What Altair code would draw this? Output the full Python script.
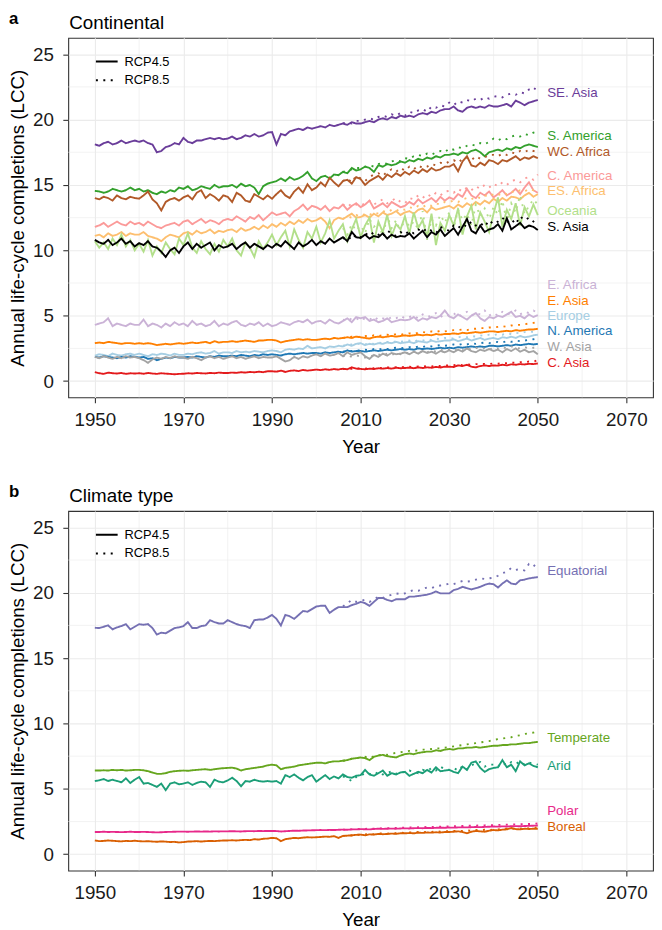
import altair as alt
import pandas as pd

FONT = "Liberation Sans"

years = list(range(1950, 2051))
years_85 = list(range(2006, 2051))

# ---------------- Continental (panel a) ----------------
se_asia_45 = [18.1, 18.0, 18.2, 18.3, 18.1, 18.2, 18.4, 18.2, 18.3, 18.4,
              18.3, 18.4, 18.2, 18.1, 17.5, 17.6, 17.9, 18.0, 18.2, 18.1,
              18.6, 18.3, 18.2, 18.4, 18.4, 18.5, 18.6, 18.5, 18.6, 18.5,
              18.55, 18.7, 18.5, 18.6, 18.8, 18.7, 18.9, 18.7, 18.8, 19.0,
              19.05, 18.1, 18.9, 18.8, 19.1, 19.2, 19.3, 19.2, 19.4, 19.3,
              19.4, 19.5, 19.4, 19.6, 19.5, 19.6, 19.7, 19.6, 19.8, 19.7,
              19.7, 19.8, 19.9, 19.8, 20.0, 20.1, 20.0, 20.2, 20.1, 20.3,
              20.2, 20.3, 20.2, 20.4, 20.5, 20.4, 20.6, 20.5, 20.7, 20.8,
              20.8, 21.0, 20.7, 20.6, 20.9, 21.0, 20.9, 21.0, 20.9, 21.1,
              21.0, 21.0, 21.1, 21.2, 21.0, 21.45, 21.3, 21.1, 21.3, 21.4,
              21.5]
se_asia_85 = [19.7, 19.8, 19.7, 19.9,
              19.9, 20.0, 20.1, 20.0, 20.2, 20.3, 20.2, 20.4, 20.3, 20.5,
              20.3, 20.6, 20.5, 20.7, 20.8, 20.6, 21.0, 20.9, 21.1, 21.0,
              21.3, 21.1, 21.4, 21.3, 21.5, 21.4, 21.6, 21.5, 21.7, 21.6,
              21.75, 21.8, 21.7, 21.9, 22.0, 21.9, 22.1, 22.0, 22.3, 22.2,
              22.7]

s_america_45 = [14.55, 14.5, 14.4, 14.5, 14.7, 14.6, 14.5, 14.6, 14.8, 14.6,
                14.7, 14.5, 14.6, 14.4, 14.3, 14.5, 14.4, 14.6, 14.5, 14.8,
                14.7, 14.9, 14.6, 14.7, 14.9, 14.8, 14.7, 15.0, 14.8, 14.9,
                14.9, 15.0, 14.8, 15.1, 14.9, 15.0, 14.8, 14.3, 14.9, 15.1,
                15.2, 15.3, 15.5, 15.3, 15.6, 15.4, 15.5, 15.7, 16.0, 15.5,
                15.3, 15.6, 15.7, 15.5, 15.8, 15.75, 16.0, 15.9, 16.3, 16.1,
                16.2, 16.4, 16.3, 16.0, 16.5, 16.4, 16.6, 16.5, 16.6, 16.8,
                16.7, 16.9, 16.8, 17.0, 16.9, 17.1, 17.0, 17.2, 17.1, 17.3,
                17.3, 17.4, 17.3, 17.5, 17.4, 17.6, 17.7, 17.5, 17.2, 17.5,
                17.6, 17.7, 17.6, 17.8, 17.7, 17.9, 17.8, 18.0, 18.1, 18.0,
                17.9]
s_america_85 = [16.0, 16.1, 16.2, 16.3,
                16.3, 16.4, 16.5, 16.4, 16.6, 16.7, 16.6, 16.8, 16.9, 16.8,
                17.05, 17.0, 17.2, 17.3, 17.2, 17.4, 17.3, 17.5, 17.6, 17.5,
                17.8, 17.7, 17.9, 17.8, 18.0, 18.1, 18.0, 18.2, 18.1, 18.3,
                18.55, 18.4, 18.6, 18.5, 18.7, 18.8, 18.7, 18.9, 18.8, 19.0,
                19.1]

wc_africa_45 = [14.0, 13.9, 14.1, 14.0, 13.8, 14.2, 14.0, 13.9, 14.1, 14.0,
                13.95, 14.2, 14.5, 13.9, 13.6, 13.05, 13.7, 13.9, 14.0, 13.8,
                14.05, 14.2, 13.9, 14.4, 14.6, 14.0, 14.3, 14.1, 13.8, 14.2,
                14.1, 13.7, 14.4, 14.2, 13.8, 13.7, 14.3, 14.1, 13.9, 14.2,
                13.95, 14.3, 14.6, 14.2, 14.0, 14.5, 14.8, 14.4, 15.05, 14.6,
                14.8, 15.2, 14.9, 15.55, 15.2, 14.9, 15.3, 15.4, 15.1, 15.6,
                15.45, 15.0, 15.3, 15.5, 15.7, 15.4, 15.8, 15.6, 15.9, 15.7,
                16.0, 15.8, 16.1, 15.9, 16.2, 16.0, 16.3, 16.1, 16.2, 16.4,
                16.4, 16.6, 16.05, 16.8, 17.2, 16.5, 16.4, 16.7, 16.5, 16.9,
                16.8, 16.6, 16.9, 16.8, 17.0, 17.2, 16.9, 17.1, 17.0, 17.2,
                17.05]
wc_africa_85 = [15.3, 15.5, 15.2, 15.7,
                15.5, 15.3, 15.6, 15.8, 15.9, 15.7, 16.0, 16.2, 16.0, 16.3,
                16.1, 16.4, 16.2, 16.5, 16.3, 16.4, 16.6, 16.5, 16.7, 16.6,
                16.8, 16.9, 16.7, 17.0, 17.1, 16.9, 17.2, 17.0, 17.1, 17.3,
                17.3, 17.2, 17.4, 17.3, 17.5, 17.4, 17.6, 17.5, 17.7, 17.6,
                17.6]

c_america_45 = [11.8, 11.9, 12.1, 11.8, 12.0, 12.2, 12.0, 11.9, 12.2, 12.0,
                12.1, 11.9, 12.2, 12.0, 11.8, 11.7, 11.9, 12.0, 12.1, 11.9,
                12.2, 12.3, 12.0, 12.2, 12.4, 12.1, 12.3, 12.2, 12.0, 12.3,
                12.4, 12.3, 12.6, 12.4, 12.2, 12.55, 12.4, 12.7, 12.3, 12.6,
                12.9, 12.7, 12.8, 12.9, 12.6, 13.0, 13.2, 13.5, 13.1, 13.4,
                13.3, 13.1, 13.4, 13.0, 13.3, 13.2, 13.5, 13.1, 13.4, 13.6,
                13.3, 13.5, 13.8, 13.2, 13.4, 13.6, 13.3, 13.7, 13.5, 13.3,
                13.4, 13.7, 13.5, 13.9, 13.6, 13.8, 14.0, 13.7, 14.1, 13.8,
                14.05, 13.9, 14.3, 14.1, 14.7, 14.2, 14.0, 14.4, 14.2, 14.5,
                14.05, 14.3, 14.6, 14.2, 14.4, 14.7, 14.3, 14.8, 15.2, 14.6,
                14.4]
c_america_85 = [13.5, 13.3, 13.6, 13.5,
                13.4, 13.6, 13.8, 13.5, 13.7, 13.9, 13.6, 13.8, 14.0, 13.7,
                13.6, 14.0, 13.9, 14.2, 14.0, 14.3, 14.1, 14.4, 14.2, 14.5,
                14.55, 14.4, 14.7, 14.5, 14.8, 14.6, 14.9, 14.7, 15.0, 14.8,
                15.1, 14.9, 15.2, 15.0, 15.3, 15.4, 15.2, 15.5, 15.6, 15.4,
                15.8]

es_africa_45 = [11.1, 11.2, 11.0, 11.3, 11.1, 11.2, 11.4, 11.1, 11.3, 11.2,
                11.2, 11.4, 11.1, 11.0, 10.9, 10.7, 11.0, 11.2, 11.1, 11.0,
                11.3, 11.4, 11.2, 11.5, 11.3, 11.4, 11.6, 11.3, 11.5, 11.4,
                11.55, 11.6, 11.4, 11.7, 11.5, 11.6, 11.8, 11.6, 11.9, 11.7,
                12.0, 11.8, 12.1, 11.9, 12.2, 12.0, 12.3, 12.1, 12.4, 12.2,
                12.3, 12.5, 12.2, 11.7, 12.3, 12.5, 12.4, 12.6, 12.8, 12.5,
                12.55, 12.7, 12.5, 12.8, 12.6, 12.9, 12.7, 12.8, 13.0, 12.7,
                12.9, 13.0, 12.8, 13.1, 13.2, 12.9, 13.3, 13.1, 13.2, 13.3,
                13.4, 13.2, 13.5, 13.3, 13.6, 13.4, 13.7, 13.5, 13.8, 13.6,
                13.95, 13.7, 14.0, 13.8, 14.1, 14.05, 13.9, 14.2, 14.4, 14.1,
                14.3]
es_africa_85 = [12.4, 12.6, 12.5, 12.7,
                12.6, 12.8, 12.7, 12.9, 12.8, 13.0, 12.9, 13.1, 13.0, 13.2,
                13.1, 13.3, 13.2, 13.4, 13.3, 13.5, 13.4, 13.6, 13.5, 13.7,
                13.7, 13.8, 13.7, 13.9, 14.0, 13.9, 14.1, 14.0, 14.2, 14.1,
                14.3, 14.2, 14.4, 14.3, 14.5, 14.4, 14.6, 14.5, 14.7, 14.6,
                14.8]

oceania_45 = [10.7, 10.2, 10.6, 10.1, 10.9, 10.4, 11.2, 10.3, 10.8, 10.0,
              10.5, 9.9, 10.8, 9.6, 10.3, 9.8, 10.6, 10.1, 9.7, 10.9,
              10.4, 11.3, 10.2, 9.8, 10.7, 10.1, 9.7, 10.5, 9.9, 10.8,
              10.3, 10.9, 10.0, 9.6, 10.6, 10.2, 9.5, 10.7, 10.1, 10.6,
              11.2, 10.4, 11.0, 11.5, 10.3, 11.6, 10.8, 10.2, 11.4, 10.9,
              11.8, 10.6, 11.3, 12.3, 10.9, 11.5, 12.0, 10.7, 11.6, 12.4,
              11.0, 11.9, 12.5, 10.6, 12.2, 11.4, 12.7, 11.1, 12.0, 11.6,
              12.6, 11.3, 12.9, 11.7, 12.3, 11.0, 12.8, 10.4, 12.1, 11.5,
              12.7, 11.9, 13.2, 11.2, 12.6, 13.4, 11.6, 12.9, 12.2, 11.4,
              12.8, 14.05, 11.8, 13.1, 12.4, 13.6, 11.9, 13.3, 12.6, 13.5,
              12.7]
oceania_85 = [11.7, 11.2, 12.0, 11.5,
              11.9, 11.3, 12.4, 11.8, 12.1, 11.1, 12.6, 11.7, 12.3, 11.4,
              12.5, 11.8, 12.2, 11.6, 13.0, 10.8, 12.4, 11.9, 12.7, 12.1,
              12.9, 11.7, 13.1, 12.3, 12.8, 11.9, 13.5, 12.6, 13.2, 12.4,
              13.3, 12.7, 13.8, 12.2, 13.6, 12.9, 14.2, 12.8, 13.4, 13.9,
              13.5]

s_asia_45 = [10.8, 10.6, 10.5, 10.8, 10.4, 10.6, 10.9, 10.5, 10.7, 10.3,
             10.55, 10.4, 10.7, 10.3, 10.2, 9.9, 9.5, 10.0, 10.2, 9.8,
             10.3, 10.6, 10.1, 10.5, 10.2, 10.4, 10.6, 10.0, 10.4, 10.2,
             10.3, 10.5, 10.1, 10.4, 10.6, 10.2, 10.5, 10.3, 10.1, 10.4,
             10.2, 10.5, 10.3, 10.7, 10.4, 10.1, 10.6, 10.3, 10.5, 10.8,
             10.4, 10.7, 10.5, 10.9, 10.6, 10.8, 11.0, 10.7, 11.4, 11.0,
             10.95, 11.2, 10.9, 11.1, 11.0, 11.3, 10.9, 11.2, 11.0, 11.1,
             11.05, 11.3, 10.9, 11.2, 11.5, 11.0, 11.4, 11.2, 11.6, 11.1,
             11.4, 11.7, 11.2, 11.8, 12.4, 11.5, 11.3, 11.9, 11.4, 11.6,
             11.7, 12.0, 11.5, 12.45, 11.6, 11.85, 12.1, 11.7, 11.9, 11.8,
             11.55]
s_asia_85 = [10.9, 11.1, 10.8, 11.2,
             11.0, 11.3, 11.1, 11.4, 11.2, 11.0, 11.5, 11.3, 11.1, 11.4,
             11.2, 11.5, 11.3, 11.6, 11.4, 11.7, 11.5, 11.3, 11.8, 11.6,
             11.5, 11.9, 11.7, 12.0, 11.8, 12.2, 11.9, 12.1, 11.8, 12.3,
             12.0, 12.2, 12.5, 12.1, 12.4, 12.0, 12.6, 12.3, 12.5, 12.2,
             12.55]

e_africa_45 = [4.3, 4.4, 4.5, 4.8, 4.2, 4.4, 4.3, 4.2, 4.4, 4.3,
               4.3, 4.7, 4.2, 4.4, 4.3, 4.1, 4.4, 4.2, 4.5, 4.3,
               4.4, 4.2, 4.6, 4.3, 4.4, 4.2, 4.3, 4.6, 4.2, 4.4,
               4.3, 4.5, 4.6, 4.3, 4.2, 4.4, 4.3, 4.5, 4.2, 4.4,
               4.2, 4.3, 4.5, 4.4, 4.3, 4.5, 4.6, 4.5, 4.7, 4.4,
               4.55, 4.6, 4.4, 4.7, 4.5, 4.4, 4.6, 4.8, 4.5, 4.9,
               4.8, 4.9, 4.6, 4.7, 4.5, 4.6, 4.8, 4.5, 4.6, 4.7,
               4.65, 4.7, 4.9, 4.6, 4.8, 4.7, 4.9, 4.8, 5.0, 5.4,
               4.95, 4.8, 5.1, 4.9, 4.7, 5.0, 5.2, 4.8, 4.6, 4.9,
               4.8, 5.0, 4.9, 5.1, 5.3, 4.9, 5.0, 4.8, 5.1, 4.9,
               5.05]
e_africa_85 = [4.7, 4.6, 4.8, 4.7,
               4.9, 4.7, 4.8, 4.6, 4.9, 4.8, 4.7, 4.9, 4.8, 5.0,
               4.8, 4.9, 5.0, 4.8, 5.1, 4.9, 5.0, 5.2, 4.9, 5.1,
               5.0, 5.2, 4.9, 5.1, 5.3, 5.0, 5.2, 5.1, 5.4, 5.0,
               5.2, 5.0, 5.3, 5.1, 5.2, 5.4, 5.1, 5.3, 5.2, 5.4,
               5.2]

e_asia_45 = [2.9, 2.95, 2.9, 3.0, 2.95, 2.9, 2.85, 2.9, 2.9, 2.85,
             2.9, 2.85, 2.9, 2.85, 2.75, 2.8, 2.85, 2.8, 2.85, 2.9,
             2.85, 2.9, 2.95, 2.9, 2.95, 3.0, 2.9, 3.05, 2.95, 3.0,
             3.0, 3.05, 3.0, 3.05, 3.1, 3.05, 3.0, 3.1, 3.1, 3.15,
             3.15, 3.1, 2.95, 3.05, 3.1, 3.15, 3.2, 3.15, 3.2, 3.15,
             3.15, 3.2, 3.25, 3.2, 3.3, 3.25, 3.3, 3.35, 3.3, 3.4,
             3.35, 3.3, 3.25, 3.35, 3.4, 3.35, 3.4, 3.45, 3.4, 3.45,
             3.5, 3.45, 3.5, 3.55, 3.5, 3.55, 3.5, 3.6, 3.55, 3.6,
             3.6, 3.65, 3.6, 3.7, 3.65, 3.7, 3.75, 3.7, 3.75, 3.8,
             3.8, 3.75, 3.8, 3.85, 3.8, 3.9, 3.85, 3.9, 3.95, 3.95,
             4.0]
e_asia_85 = [3.3, 3.35, 3.4, 3.35,
             3.4, 3.45, 3.4, 3.5, 3.45, 3.5, 3.55, 3.5, 3.6, 3.55,
             3.6, 3.65, 3.6, 3.7, 3.75, 3.7, 3.8, 3.75, 3.85, 3.8,
             3.85, 3.9, 3.9, 3.95, 3.9, 4.0, 4.0, 4.05, 4.05, 4.1,
             4.1, 4.15, 4.2, 4.15, 4.25, 4.3, 4.3, 4.35, 4.4, 4.45,
             4.55]

europe_45 = [1.95, 2.05, 2.0, 1.9, 2.1, 2.0, 1.95, 2.05, 2.1, 2.0,
             2.1, 2.0, 1.9, 2.05, 2.0, 2.1, 2.05, 1.95, 2.1, 2.0,
             2.0, 2.1, 2.05, 2.15, 2.2, 2.1, 2.15, 2.3, 2.1, 2.2,
             2.2, 2.15, 2.3, 2.2, 2.25, 2.2, 2.3, 2.25, 2.2, 2.3,
             2.35, 2.3, 2.2, 2.4, 2.45, 2.4, 2.5, 2.45, 2.7, 2.5,
             2.55, 2.6, 2.5, 2.65, 2.6, 2.7, 2.65, 2.8, 2.7, 2.85,
             2.9, 2.75, 2.85, 2.8, 2.9, 2.85, 2.95, 2.9, 3.0, 2.9,
             2.95, 3.0, 2.9, 3.05, 3.0, 2.95, 3.1, 3.0, 3.05, 3.1,
             3.1, 3.2, 3.05, 3.15, 3.25, 3.1, 3.2, 3.3, 3.15, 3.25,
             3.3, 3.2, 3.35, 3.3, 3.4, 3.3, 3.45, 3.35, 3.4, 3.5,
             3.55]
europe_85 = [2.7, 2.75, 2.8, 2.85,
             2.85, 2.8, 2.9, 2.85, 2.95, 2.9, 3.0, 2.95, 3.05, 3.0,
             3.05, 3.1, 3.0, 3.15, 3.1, 3.2, 3.15, 3.25, 3.2, 3.3,
             3.3, 3.25, 3.35, 3.4, 3.35, 3.45, 3.4, 3.5, 3.45, 3.55,
             3.5, 3.6, 3.55, 3.65, 3.6, 3.7, 3.65, 3.75, 3.8, 3.75,
             3.85]

n_america_45 = [1.85, 1.8, 1.9, 1.85, 1.8, 1.75, 1.85, 1.8, 1.9, 1.85,
                1.8, 1.85, 1.7, 1.75, 1.6, 1.7, 1.8, 1.75, 1.85, 1.8,
                1.8, 1.85, 1.8, 1.9, 1.85, 1.8, 1.9, 1.85, 1.95, 1.9,
                1.9, 1.95, 1.9, 2.0, 1.95, 1.9, 2.0, 1.95, 2.05, 2.0,
                2.05, 2.0, 1.95, 2.05, 2.1, 2.05, 2.1, 2.15, 2.1, 2.15,
                2.15, 2.1, 2.2, 2.15, 2.2, 2.25, 2.2, 2.35, 2.25, 2.3,
                2.3, 2.25, 2.3, 2.35, 2.3, 2.35, 2.4, 2.35, 2.4, 2.45,
                2.4, 2.45, 2.4, 2.5, 2.45, 2.5, 2.45, 2.5, 2.55, 2.5,
                2.55, 2.5, 2.6, 2.55, 2.6, 2.65, 2.6, 2.65, 2.6, 2.7,
                2.7, 2.65, 2.7, 2.75, 2.7, 2.8, 2.75, 2.8, 2.85, 2.8,
                2.85]
n_america_85 = [2.25, 2.3, 2.3, 2.35,
                2.35, 2.4, 2.35, 2.45, 2.4, 2.5, 2.45, 2.5, 2.55, 2.5,
                2.55, 2.6, 2.55, 2.65, 2.6, 2.7, 2.65, 2.7, 2.75, 2.7,
                2.75, 2.8, 2.75, 2.85, 2.8, 2.9, 2.85, 2.9, 2.95, 2.9,
                2.95, 3.0, 2.95, 3.05, 3.0, 3.1, 3.05, 3.1, 3.15, 3.2,
                3.25]

w_asia_45 = [1.85, 1.75, 1.9, 1.8, 1.7, 1.85, 1.75, 1.9, 1.8, 1.85,
             1.75, 1.6, 1.4, 1.65, 1.8, 1.7, 1.85, 1.75, 1.9, 1.8,
             1.8, 1.7, 1.85, 1.75, 1.6, 1.8, 1.9, 1.75, 1.85, 1.7,
             1.8, 1.9, 1.75, 1.85, 1.7, 1.8, 1.9, 1.75, 1.85, 1.8,
             1.8, 1.9, 1.7, 1.5, 1.6, 1.85, 1.7, 1.9, 1.8, 1.95,
             2.05, 1.9, 2.1, 1.95, 2.0, 2.15, 1.9, 2.2, 2.0, 2.1,
             2.2, 1.9, 1.7, 2.0, 1.85, 2.1, 1.95, 2.15, 2.05, 2.1,
             2.2, 2.05, 2.25, 2.1, 2.3, 2.15, 2.25, 2.1, 2.3, 2.2,
             2.35, 2.2, 2.4, 2.25, 2.5, 2.3, 2.2, 2.4, 2.3, 2.45,
             2.3, 2.4, 2.2, 2.45, 2.3, 2.5, 2.25, 2.4, 2.2, 2.3,
             2.05]
w_asia_85 = [1.9, 2.0, 1.85, 1.95,
             1.9, 1.8, 1.85, 2.0, 2.05, 1.95, 2.1, 2.0, 2.15, 2.05,
             2.2, 2.1, 2.25, 2.15, 2.3, 2.2, 2.35, 2.25, 2.4, 2.3,
             2.4, 2.3, 2.45, 2.35, 2.5, 2.4, 2.55, 2.45, 2.5, 2.4,
             2.55, 2.45, 2.6, 2.5, 2.65, 2.55, 2.5, 2.6, 2.5, 2.55,
             2.55]

c_asia_45 = [0.68, 0.6, 0.55, 0.65, 0.6, 0.58, 0.62, 0.55, 0.6, 0.58,
             0.6, 0.56, 0.62, 0.58, 0.55, 0.6, 0.57, 0.55, 0.52, 0.55,
             0.56, 0.6, 0.58, 0.62, 0.6, 0.58, 0.62, 0.6, 0.65, 0.62,
             0.62, 0.65, 0.63, 0.68, 0.65, 0.7, 0.67, 0.72, 0.68, 0.75,
             0.75, 0.72, 0.8, 0.7, 0.78, 0.82, 0.76, 0.85, 0.8, 0.84,
             0.88, 0.84, 0.9, 0.86, 0.92, 0.88, 0.95, 0.9, 1.05, 0.95,
             0.93, 0.9, 0.95, 0.92, 0.98, 0.95, 1.0, 0.95, 1.02, 0.98,
             1.0, 1.03, 0.98, 1.05, 1.0, 1.05, 1.02, 1.08, 1.04, 1.1,
             1.1, 1.08, 1.2, 1.15, 1.25, 1.1, 1.05, 1.15, 1.2, 1.15,
             1.2, 1.18, 1.25, 1.2, 1.28, 1.25, 1.3, 1.27, 1.32, 1.3,
             1.35]
c_asia_85 = [0.92, 0.95, 0.93, 0.97,
             0.97, 0.95, 1.0, 0.98, 1.02, 1.0, 1.05, 1.02, 1.07, 1.05,
             1.08, 1.1, 1.07, 1.12, 1.1, 1.15, 1.12, 1.17, 1.15, 1.2,
             1.2, 1.22, 1.25, 1.22, 1.28, 1.25, 1.3, 1.28, 1.32, 1.3,
             1.35, 1.33, 1.38, 1.36, 1.4, 1.42, 1.45, 1.43, 1.5, 1.48,
             1.6]

continental_regions = ["SE. Asia", "S. America", "WC. Africa", "C. America",
                       "ES. Africa", "Oceania", "S. Asia", "E. Africa",
                       "E. Asia", "Europe", "N. America", "W. Asia", "C. Asia"]
continental_colors = ["#6A3D9A", "#33A02C", "#B15928", "#FB9A99",
                      "#FDBF6F", "#B2DF8A", "#000000", "#CAB2D6",
                      "#FF7F00", "#A6CEE3", "#1F78B4", "#A3A3A3", "#E31A1C"]
continental_label_y = [22.0, 18.75, 17.55, 15.7, 14.5, 13.0, 11.8,
                       7.35, 6.15, 4.95, 3.8, 2.6, 1.4]
continental_45 = [se_asia_45, s_america_45, wc_africa_45, c_america_45,
                  es_africa_45, oceania_45, s_asia_45, e_africa_45,
                  e_asia_45, europe_45, n_america_45, w_asia_45, c_asia_45]
continental_85 = [se_asia_85, s_america_85, wc_africa_85, c_america_85,
                  es_africa_85, oceania_85, s_asia_85, e_africa_85,
                  e_asia_85, europe_85, n_america_85, w_asia_85, c_asia_85]

# ---------------- Climate type (panel b) ----------------
equatorial_45 = [17.32, 17.3, 17.4, 17.5, 17.2, 17.35, 17.45, 17.6, 17.2, 17.4,
                 17.6, 17.55, 17.6, 17.3, 16.8, 16.95, 16.9, 17.1, 17.3, 17.35,
                 17.45, 17.75, 17.3, 17.3, 17.45, 17.5, 17.9, 17.75, 17.65, 17.65,
                 17.9, 17.75, 17.6, 17.5, 17.45, 17.3, 17.9, 17.95, 17.95, 18.1,
                 18.3, 18.0, 17.5, 18.3, 18.2, 18.0, 18.3, 18.6, 18.55, 18.75,
                 18.95, 19.0, 19.0, 18.45, 18.7, 18.9, 18.9, 18.9, 19.05, 19.15,
                 19.3, 19.2, 19.0, 19.3, 19.6, 19.6, 19.45, 19.35, 19.5, 19.5,
                 19.5, 19.7, 19.7, 19.75, 19.8, 19.85, 19.95, 20.1, 19.95, 19.95,
                 19.95, 20.2, 20.3, 20.45, 20.35, 20.25, 20.35, 20.45, 20.6, 20.7,
                 20.65, 20.4, 20.7, 20.95, 20.7, 20.65, 20.95, 21.0, 21.1, 21.15,
                 21.2]
equatorial_85 = [18.95, 19.2, 19.45, 19.3,
                 19.4, 19.45, 19.3, 19.5, 19.7, 19.6, 19.75, 19.85, 19.95, 19.9,
                 19.95, 20.1, 20.2, 20.15, 20.3, 20.4, 20.35, 20.5, 20.55, 20.6,
                 20.7, 20.65, 20.8, 20.9, 20.85, 20.9, 21.0, 21.1, 21.05, 21.1,
                 21.15, 21.3, 21.5, 21.6, 21.9, 21.75, 21.8, 21.7, 22.2, 22.0,
                 22.35]

temperate_45 = [6.4, 6.4, 6.42, 6.4, 6.45, 6.42, 6.45, 6.4, 6.42, 6.45,
                6.45, 6.42, 6.35, 6.25, 6.15, 6.15, 6.2, 6.3, 6.35, 6.38,
                6.4, 6.38, 6.42, 6.45, 6.48, 6.5, 6.45, 6.5, 6.55, 6.58,
                6.6, 6.62, 6.55, 6.4, 6.5, 6.55, 6.6, 6.65, 6.7, 6.8,
                6.85, 6.8, 6.5, 6.6, 6.65, 6.7, 6.8, 6.85, 6.9, 6.95,
                7.0, 7.0, 6.95, 7.05, 7.1, 7.1, 7.15, 7.2, 7.3, 7.35,
                7.4, 7.35, 7.2, 7.45, 7.55, 7.6, 7.5, 7.45, 7.4, 7.55,
                7.65, 7.7, 7.65, 7.75, 7.8, 7.85, 7.85, 7.95, 7.9, 8.0,
                8.05, 8.0, 8.1, 8.1, 8.15, 8.15, 8.2, 8.15, 8.2, 8.25,
                8.3, 8.3, 8.35, 8.35, 8.4, 8.4, 8.45, 8.5, 8.5, 8.55,
                8.6]
temperate_85 = [7.15, 7.2, 7.3, 7.35,
                7.4, 7.45, 7.35, 7.5, 7.55, 7.65, 7.6, 7.7, 7.75, 7.8,
                7.85, 7.9, 7.9, 7.95, 8.0, 8.0, 8.05, 8.1, 8.1, 8.15,
                8.2, 8.25, 8.3, 8.35, 8.4, 8.45, 8.5, 8.55, 8.6, 8.65,
                8.75, 8.8, 8.85, 8.9, 8.95, 9.05, 9.1, 9.2, 9.25, 9.3,
                9.4]

arid_45 = [5.6, 5.65, 5.75, 5.6, 5.7, 5.6, 5.5, 5.8, 5.45, 5.7,
           5.9, 5.4, 5.45, 5.3, 5.15, 5.4, 4.9, 5.4, 5.5, 5.35,
           5.4, 5.5, 5.3, 5.45, 5.55, 5.5, 5.15, 5.7, 5.55, 5.5,
           5.65, 5.85, 5.6, 5.2, 5.6, 5.55, 5.7, 5.6, 5.55, 5.6,
           5.55, 5.6, 5.4, 6.05, 5.9, 6.1, 5.85, 5.65, 5.9, 6.05,
           5.55, 5.8, 6.05, 5.75, 5.95, 5.8, 6.1, 5.9, 5.85, 6.0,
           6.05, 6.45, 6.1, 6.0, 6.2, 6.4, 6.0, 6.2, 6.1, 6.25,
           6.3, 6.0, 6.15, 6.3, 6.2, 6.45, 6.25, 6.65, 6.35, 6.4,
           6.45, 6.3, 6.2, 6.7, 6.45, 7.0, 7.1, 6.6, 6.3, 6.5,
           6.6, 6.65, 7.2, 6.65, 6.85, 6.35, 7.1, 6.8, 6.95, 6.75,
           6.65]
arid_85 = [5.95, 5.8, 5.6, 5.9,
           6.0, 6.2, 6.15, 6.05, 6.3, 6.1, 6.2, 6.35, 6.15, 6.3,
           6.25, 6.4, 6.3, 6.2, 6.45, 6.35, 6.6, 6.4, 6.7, 6.5,
           6.45, 6.6, 6.4, 6.75, 6.5, 6.8, 6.95, 7.05, 6.7, 6.85,
           6.85, 6.7, 7.0, 6.8, 7.05, 6.9, 7.1, 6.85, 7.0, 6.95,
           6.85]

polar_45 = [1.7, 1.7, 1.72, 1.7, 1.71, 1.7, 1.69, 1.7, 1.72, 1.7,
            1.7, 1.71, 1.7, 1.68, 1.67, 1.68, 1.7, 1.71, 1.72, 1.73,
            1.73, 1.72, 1.73, 1.74, 1.73, 1.74, 1.73, 1.75, 1.74, 1.75,
            1.75, 1.76, 1.75, 1.74, 1.76, 1.77, 1.76, 1.78, 1.77, 1.78,
            1.78, 1.77, 1.74, 1.76, 1.78, 1.8, 1.79, 1.81, 1.82, 1.83,
            1.84, 1.85, 1.84, 1.86, 1.85, 1.87, 1.88, 1.87, 1.9, 1.9,
            1.92, 1.91, 1.9, 1.93, 1.95, 1.94, 1.95, 1.96, 1.95, 1.97,
            1.98, 1.97, 1.99, 2.0, 1.99, 2.01, 2.0, 2.02, 2.03, 2.02,
            2.04, 2.03, 2.05, 2.06, 2.05, 2.07, 2.08, 2.07, 2.09, 2.1,
            2.12, 2.11, 2.13, 2.12, 2.14, 2.15, 2.14, 2.16, 2.17, 2.18,
            2.2]
polar_85 = [1.88, 1.89, 1.9, 1.92,
            1.93, 1.94, 1.95, 1.96, 1.97, 1.98, 1.99, 2.0, 2.01, 2.02,
            2.03, 2.04, 2.05, 2.06, 2.07, 2.08, 2.09, 2.1, 2.11, 2.12,
            2.13, 2.14, 2.15, 2.16, 2.17, 2.18, 2.19, 2.2, 2.21, 2.22,
            2.23, 2.24, 2.25, 2.26, 2.27, 2.28, 2.29, 2.3, 2.31, 2.33,
            2.35]

boreal_45 = [1.05, 1.0, 1.02, 1.05, 1.03, 1.0, 0.98, 1.02, 1.0, 1.03,
             1.0, 0.98, 1.0, 0.97, 0.95, 0.98, 0.96, 0.93, 0.95, 0.9,
             0.93, 0.97, 0.98, 1.0, 0.97, 1.0, 1.02, 1.0, 1.03, 1.05,
             1.05, 1.07, 1.05, 1.08, 1.1, 1.08, 1.15, 1.12, 1.18, 1.2,
             1.25, 1.22, 1.0, 1.15, 1.2, 1.25, 1.22, 1.27, 1.3, 1.28,
             1.3, 1.32, 1.35, 1.33, 1.38, 1.25, 1.4, 1.42, 1.45, 1.48,
             1.5, 1.45, 1.52, 1.5, 1.55, 1.53, 1.55, 1.58, 1.56, 1.6,
             1.6, 1.62, 1.6, 1.65, 1.63, 1.66, 1.65, 1.68, 1.66, 1.7,
             1.7, 1.72, 1.75, 1.7, 1.6, 1.72, 1.78, 1.75, 1.72, 1.8,
             1.85, 1.82, 1.88, 1.9, 2.0, 1.92, 1.9, 1.95, 1.93, 1.95,
             1.95]
boreal_85 = [1.4, 1.45, 1.43, 1.47,
             1.5, 1.52, 1.55, 1.53, 1.58, 1.6, 1.57, 1.62, 1.6, 1.65,
             1.63, 1.67, 1.65, 1.7, 1.68, 1.72, 1.7, 1.75, 1.73, 1.77,
             1.75, 1.78, 1.8, 1.78, 1.82, 1.8, 1.85, 1.83, 1.87, 1.85,
             1.88, 1.9, 1.92, 1.95, 1.93, 1.97, 1.95, 2.0, 1.98, 2.02,
             2.05]

climate_regions = ["Equatorial", "Temperate", "Arid", "Polar", "Boreal"]
climate_colors = ["#7570B3", "#66A61E", "#1B9E77", "#E7298A", "#D95F02"]
climate_label_y = [21.67, 8.92, 6.73, 3.27, 2.07]
climate_45 = [equatorial_45, temperate_45, arid_45, polar_45, boreal_45]
climate_85 = [equatorial_85, temperate_85, arid_85, polar_85, boreal_85]

scenarios = ["RCP4.5", "RCP8.5"]
x_ticks = [1950, 1970, 1990, 2010, 2030, 2050, 2070]
x_minor = [1960, 1980, 2000, 2020, 2040, 2060]
y_ticks = [0, 5, 10, 15, 20, 25]
y_minor = [2.5, 7.5, 12.5, 17.5, 22.5]
x_domain = [1944, 2076]
y_domain = [-1.25, 26.25]
label_year = 2050

GRID = "#EBEBEB"


def build_lines(regions, s45, s85):
    rows = []
    for reg, a, b in zip(regions, s45, s85):
        assert len(a) == len(years), (reg, len(a))
        assert len(b) == len(years_85), (reg, len(b))
        for yr, v in zip(years, a):
            rows.append({"year": yr, "value": v, "region": reg, "scenario": "RCP4.5"})
        for yr, v in zip(years_85, b):
            rows.append({"year": yr, "value": v, "region": reg, "scenario": "RCP8.5"})
    return pd.DataFrame(rows)


def panel(regions, colors, label_y, s45, s85, letter, title):
    df = build_lines(regions, s45, s85)
    labels = pd.DataFrame({"region": regions, "ly": label_y,
                           "lx": [label_year] * len(regions)})
    xs = alt.Scale(domain=x_domain, nice=False, zero=False)
    ys = alt.Scale(domain=y_domain, nice=False, zero=False)
    cs = alt.Scale(domain=regions, range=colors)
    x_axis = alt.Axis(values=x_ticks, format="d", title="Year", grid=True)
    y_axis = alt.Axis(values=y_ticks, title="Annual life-cycle completions (LCC)", grid=True)

    minor_x = alt.Chart(pd.DataFrame({"v": x_minor})).mark_rule(
        color=GRID, strokeWidth=0.6).encode(x=alt.X("v:Q", scale=xs, axis=x_axis))
    minor_y = alt.Chart(pd.DataFrame({"v": y_minor})).mark_rule(
        color=GRID, strokeWidth=0.6).encode(y=alt.Y("v:Q", scale=ys, axis=y_axis))

    lines = alt.Chart(df).mark_line(strokeWidth=1.9, strokeCap="butt").encode(
        x=alt.X("year:Q", scale=xs, axis=x_axis),
        y=alt.Y("value:Q", scale=ys, axis=y_axis),
        color=alt.Color("region:N", scale=cs, legend=None),
        strokeDash=alt.StrokeDash(
            "scenario:N",
            scale=alt.Scale(domain=scenarios, range=[[1, 0], [2, 5.5]]),
            legend=alt.Legend(title=None, orient="none", legendX=27, legendY=12,
                              symbolType="stroke", symbolSize=484,
                              symbolStrokeWidth=2, symbolStrokeColor="black",
                              labelFontSize=13, labelFont=FONT, labelColor="black",
                              labelOffset=6, rowPadding=0, padding=0),
        ),
    )

    texts = alt.Chart(labels).mark_text(
        align="left", baseline="middle", dx=9.5, fontSize=13.5, font=FONT).encode(
        x=alt.X("lx:Q", scale=xs, axis=x_axis),
        y=alt.Y("ly:Q", scale=ys, axis=y_axis),
        text="region:N",
        color=alt.Color("region:N", scale=cs, legend=None),
    )

    tag = alt.Chart(pd.DataFrame({"t": [letter]})).mark_text(
        align="left", baseline="alphabetic", fontSize=17, fontWeight="bold",
        font=FONT, color="black").encode(
        text="t:N", x=alt.value(-60), y=alt.value(-13.7))

    head = alt.Chart(pd.DataFrame({"t": [title]})).mark_text(
        align="left", baseline="alphabetic", fontSize=19, font=FONT,
        color="black").encode(
        text="t:N", x=alt.value(1), y=alt.value(-8.7))

    return alt.layer(minor_x, minor_y, lines, texts, tag, head).properties(
        width=592, height=364)


pa = panel(continental_regions, continental_colors, continental_label_y,
           continental_45, continental_85, "a", "Continental")
pb = panel(climate_regions, climate_colors, climate_label_y,
           climate_45, climate_85, "b", "Climate type")

chart = alt.vconcat(pa, pb, spacing=25).resolve_scale(
    color="independent", strokeDash="independent"
).resolve_legend(strokeDash="independent").properties(
    padding={"left": 0, "top": -4.5, "right": 0, "bottom": 0},
    background="white",
).configure_view(
    stroke="#333333", strokeWidth=1.1
).configure_axis(
    domain=False, tickColor="#333333", tickWidth=1.1, tickSize=5.5,
    labelFont=FONT, labelFontSize=19, labelColor="#1A1A1A",
    titleFont=FONT, titleFontSize=19, titleFontWeight="normal", titleColor="black",
    gridColor=GRID, gridWidth=1.1,
).configure_axisX(
    labelPadding=8, titlePadding=8
).configure_axisY(
    labelPadding=9.5, titlePadding=5
)

chart.save("out.html", embed_options={"renderer": "svg", "actions": False})
